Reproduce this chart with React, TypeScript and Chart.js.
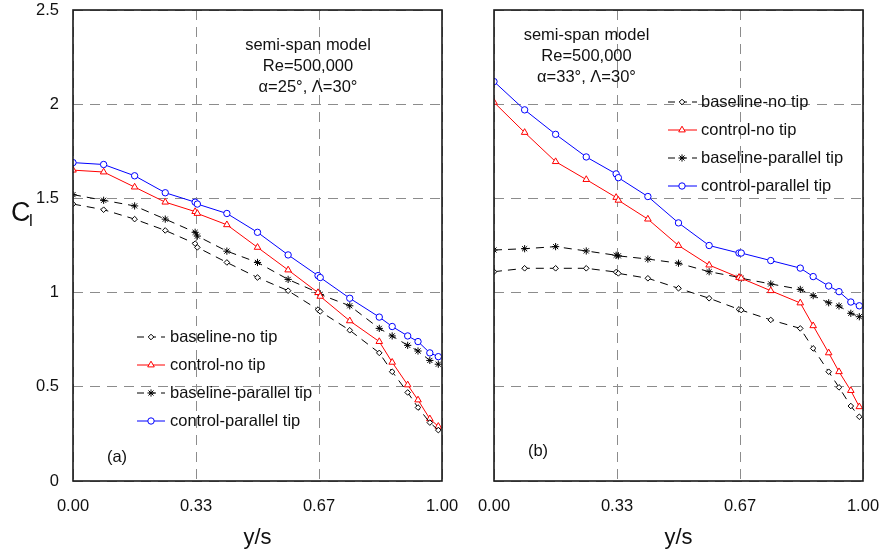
import React, { useEffect, useRef } from 'react';
import { Chart, registerables } from 'chart.js';

Chart.register(...registerables);

const FONT = '"Liberation Sans", Arial, Helvetica, sans-serif';

// Spanwise measurement stations (y/s)
const spanStations = [0, 0.083, 0.167, 0.25, 0.331, 0.337, 0.417, 0.5, 0.583, 0.664, 0.67, 0.75, 0.83, 0.865, 0.907, 0.935, 0.967, 0.99];

const xTickValues = [0, 1 / 3, 2 / 3, 1];
const xTickLabels = ['0.00', '0.33', '0.67', '1.00'];

const seriesNames = ['baseline-no tip', 'control-no tip', 'baseline-parallel tip', 'control-parallel tip'];

// (a) alpha = 25 deg
const a25BaselineNoTip = [1.47, 1.44, 1.39, 1.33, 1.26, 1.24, 1.16, 1.08, 1.01, 0.91, 0.9, 0.8, 0.68, 0.58, 0.47, 0.39, 0.31, 0.27];
const a25ControlNoTip = [1.65, 1.64, 1.56, 1.48, 1.43, 1.42, 1.36, 1.24, 1.12, 1.0, 0.98, 0.85, 0.74, 0.63, 0.51, 0.43, 0.33, 0.29];
const a25BaselineParallel = [1.52, 1.49, 1.46, 1.39, 1.32, 1.3, 1.22, 1.16, 1.07, 1.0, 0.99, 0.93, 0.81, 0.77, 0.72, 0.69, 0.64, 0.62];
const a25ControlParallel = [1.69, 1.68, 1.62, 1.53, 1.48, 1.47, 1.42, 1.32, 1.2, 1.09, 1.08, 0.97, 0.87, 0.82, 0.77, 0.74, 0.68, 0.66];

// (b) alpha = 33 deg
const a33BaselineNoTip = [1.111, 1.129, 1.129, 1.129, 1.109, 1.102, 1.076, 1.023, 0.97, 0.911, 0.907, 0.855, 0.81, 0.704, 0.58, 0.497, 0.398, 0.341];
const a33ControlNoTip = [2.01, 1.85, 1.695, 1.6, 1.505, 1.49, 1.39, 1.25, 1.146, 1.08, 1.076, 1.01, 0.945, 0.824, 0.68, 0.58, 0.48, 0.394];
const a33BaselineParallel = [1.226, 1.233, 1.244, 1.221, 1.198, 1.195, 1.178, 1.156, 1.111, 1.081, 1.076, 1.046, 1.017, 0.984, 0.946, 0.929, 0.89, 0.872];
const a33ControlParallel = [2.12, 1.97, 1.84, 1.72, 1.63, 1.61, 1.51, 1.37, 1.25, 1.21, 1.21, 1.17, 1.13, 1.085, 1.035, 1.005, 0.95, 0.93];

const notesA = ['semi-span model', 'Re=500,000', 'α=25°, Λ=30°'];
const notesB = ['semi-span model', 'Re=500,000', 'α=33°, Λ=30°'];

const CANVAS_H = 555;
const PLOT_TOP = 10;
const PLOT_BOTTOM = 481;

type SeriesStyle = {
  color: string;
  dash: number[];
  point: string;
  radius: number;
};

const styles: SeriesStyle[] = [
  { color: '#000000', dash: [8, 6], point: 'rectRot', radius: 2.8 },
  { color: '#ff0000', dash: [], point: 'triangle', radius: 3.8 },
  { color: '#000000', dash: [8, 6], point: 'star', radius: 3.6 },
  { color: '#0000ff', dash: [], point: 'circle', radius: 3.2 },
];

function drawMarker(ctx: CanvasRenderingContext2D, kind: string, x: number, y: number, r: number, color: string) {
  ctx.save();
  ctx.setLineDash([]);
  ctx.strokeStyle = color;
  ctx.fillStyle = '#ffffff';
  ctx.lineWidth = 1;
  ctx.beginPath();
  if (kind === 'rectRot') {
    ctx.moveTo(x, y - r);
    ctx.lineTo(x + r, y);
    ctx.lineTo(x, y + r);
    ctx.lineTo(x - r, y);
    ctx.closePath();
    ctx.fill();
    ctx.stroke();
  } else if (kind === 'triangle') {
    for (let i = 0; i < 3; i++) {
      const a = (i * 2 * Math.PI) / 3;
      const px = x + Math.sin(a) * r;
      const py = y - Math.cos(a) * r;
      if (i === 0) ctx.moveTo(px, py);
      else ctx.lineTo(px, py);
    }
    ctx.closePath();
    ctx.fill();
    ctx.stroke();
  } else if (kind === 'star') {
    for (let i = 0; i < 4; i++) {
      const a = (i * Math.PI) / 4;
      ctx.moveTo(x - Math.cos(a) * r, y - Math.sin(a) * r);
      ctx.lineTo(x + Math.cos(a) * r, y + Math.sin(a) * r);
    }
    ctx.stroke();
  } else {
    ctx.arc(x, y, r, 0, Math.PI * 2);
    ctx.fill();
    ctx.stroke();
  }
  ctx.restore();
}

type Decor = {
  notes: string[];
  noteX: number;
  noteY: number;
  noteStep: number;
  legendX0: number;
  legendX1: number;
  legendMarkerX: number;
  legendTextX: number;
  legendY: number;
  legendStep: number;
  tag: string;
  tagX: number;
  tagY: number;
  yTitle: boolean;
};

function makeDecorPlugin(d: Decor) {
  return {
    id: 'panelDecor',
    afterDraw(chart: any) {
      const ctx: CanvasRenderingContext2D = chart.ctx;
      const area = chart.chartArea;
      ctx.save();

      // plot frame
      ctx.setLineDash([]);
      ctx.strokeStyle = '#1a1a1a';
      ctx.lineWidth = 1.6;
      ctx.strokeRect(area.left, area.top, area.right - area.left, area.bottom - area.top);

      ctx.fillStyle = '#111111';

      // condition notes
      ctx.font = `16.5px ${FONT}`;
      ctx.textAlign = 'center';
      ctx.textBaseline = 'middle';
      d.notes.forEach((line, i) => ctx.fillText(line, d.noteX, d.noteY + i * d.noteStep));

      // panel tag
      ctx.fillText(d.tag, d.tagX, d.tagY);

      // legend
      chart.data.datasets.forEach((ds: any, i: number) => {
        const y = d.legendY + i * d.legendStep;
        const st = styles[i];
        ctx.save();
        ctx.strokeStyle = st.color;
        ctx.lineWidth = 1;
        ctx.setLineDash(st.dash.length ? [7, 5] : []);
        ctx.beginPath();
        ctx.moveTo(d.legendX0, y);
        ctx.lineTo(d.legendX1, y);
        ctx.stroke();
        ctx.restore();
        drawMarker(ctx, st.point, d.legendMarkerX, y, st.radius, st.color);
        ctx.fillStyle = '#111111';
        ctx.font = `16.5px ${FONT}`;
        ctx.textAlign = 'left';
        ctx.textBaseline = 'middle';
        ctx.fillText(ds.label, d.legendTextX, y);
      });

      // x-axis title
      ctx.font = `22px ${FONT}`;
      ctx.textAlign = 'center';
      ctx.textBaseline = 'alphabetic';
      ctx.fillText('y/s', (area.left + area.right) / 2, 544);

      // y-axis title C_l
      if (d.yTitle) {
        ctx.textAlign = 'left';
        ctx.font = `27px ${FONT}`;
        ctx.fillText('C', 11, 221);
        ctx.font = `17px ${FONT}`;
        ctx.fillText('l', 29, 226);
      }
      ctx.restore();
    },
  };
}

type PanelProps = {
  left: number;
  width: number;
  yAxisWidth: number;
  rightPad: number;
  showYLabels: boolean;
  series: number[][];
  decor: Decor;
};

function Panel({ left, width, yAxisWidth, rightPad, showYLabels, series, decor }: PanelProps) {
  const ref = useRef<HTMLCanvasElement>(null);

  useEffect(() => {
    const canvas = ref.current;
    if (!canvas) return;
    const datasets = series.map((vals, i) => {
      const st = styles[i];
      return {
        label: seriesNames[i],
        data: vals.map((v, k) => ({ x: spanStations[k], y: v })),
        borderColor: st.color,
        borderWidth: 1,
        borderDash: st.dash,
        pointStyle: st.point,
        pointRadius: st.radius,
        pointBorderColor: st.color,
        pointBackgroundColor: '#ffffff',
        pointBorderWidth: 1,
        fill: false,
        tension: 0,
      };
    });

    // label overflow is handled by the fixed layout padding
    const clearPadding = (scale: any) => {
      scale.paddingLeft = 0;
      scale.paddingRight = 0;
      scale.paddingTop = 0;
      scale.paddingBottom = 0;
    };

    const chart = new Chart(canvas, {
      type: 'line',
      data: { datasets } as any,
      options: {
        responsive: false,
        animation: false,
        events: [],
        layout: { padding: { left: 0, right: rightPad, top: PLOT_TOP, bottom: 0 } },
        plugins: { legend: { display: false }, tooltip: { enabled: false } },
        scales: {
          x: {
            type: 'linear',
            min: 0,
            max: 1,
            afterBuildTicks: (scale: any) => {
              scale.ticks = xTickValues.map((v) => ({ value: v }));
            },
            afterFit: (scale: any) => {
              scale.height = CANVAS_H - PLOT_BOTTOM;
              clearPadding(scale);
            },
            grid: { color: '#8c8c8c', lineWidth: 1, drawTicks: false },
            border: { display: false, dash: [10, 7] },
            ticks: {
              autoSkip: false,
              maxRotation: 0,
              padding: 16,
              color: '#111111',
              font: { size: 16.5, family: FONT },
              callback: (_v: any, i: number) => xTickLabels[i],
            },
          },
          y: {
            type: 'linear',
            min: 0,
            max: 2.5,
            afterFit: (scale: any) => {
              scale.width = yAxisWidth;
              clearPadding(scale);
            },
            grid: { color: '#8c8c8c', lineWidth: 1, drawTicks: false },
            border: { display: false, dash: [10, 7] },
            ticks: {
              display: showYLabels,
              stepSize: 0.5,
              padding: 14,
              color: '#111111',
              font: { size: 16.5, family: FONT },
              callback: (v: any) => `${Number(v)}`,
            },
          },
        },
      } as any,
      plugins: [makeDecorPlugin(decor)],
    });
    return () => chart.destroy();
  }, []);

  return (
    <canvas
      ref={ref}
      width={width}
      height={CANVAS_H}
      style={{ position: 'absolute', left, top: 0, width, height: CANVAS_H }}
    />
  );
}

export default function App() {
  return (
    <div style={{ position: 'absolute', left: 0, top: 0, width: 881, height: CANVAS_H, background: '#ffffff' }}>
      <Panel
        left={0}
        width={460}
        yAxisWidth={73}
        rightPad={18}
        showYLabels={true}
        series={[a25BaselineNoTip, a25ControlNoTip, a25BaselineParallel, a25ControlParallel]}
        decor={{
          notes: notesA,
          noteX: 308,
          noteY: 45,
          noteStep: 21,
          legendX0: 137,
          legendX1: 165,
          legendMarkerX: 151,
          legendTextX: 170,
          legendY: 337,
          legendStep: 28,
          tag: '(a)',
          tagX: 117,
          tagY: 457,
          yTitle: true,
        }}
      />
      <Panel
        left={460}
        width={421}
        yAxisWidth={34}
        rightPad={18}
        showYLabels={false}
        series={[a33BaselineNoTip, a33ControlNoTip, a33BaselineParallel, a33ControlParallel]}
        decor={{
          notes: notesB,
          noteX: 126.5,
          noteY: 35,
          noteStep: 21,
          legendX0: 208,
          legendX1: 237,
          legendMarkerX: 222,
          legendTextX: 241,
          legendY: 102,
          legendStep: 28,
          tag: '(b)',
          tagX: 78,
          tagY: 451,
          yTitle: false,
        }}
      />
    </div>
  );
}
